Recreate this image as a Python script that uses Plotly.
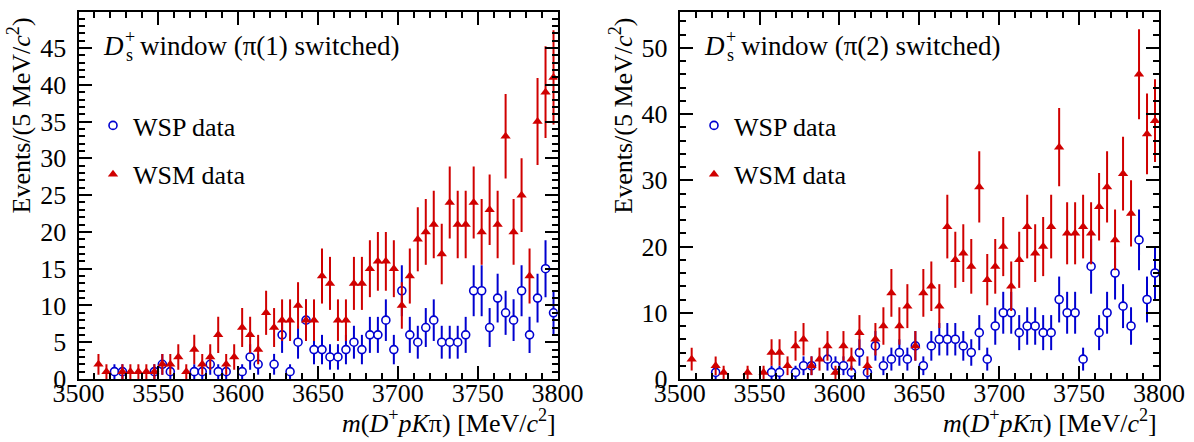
import math
import plotly.graph_objects as go

N = None
# 5 MeV bins from 3500 to 3800
bin_edges_lo = 3500
bin_width = 5
n_bins = 60
bin_centers = [bin_edges_lo + bin_width * (i + 0.5) for i in range(n_bins)]

# Left panel: pi(1) switched
left_wsp = [N, N, N, N, 1, 1, N, N, N, 1,
            2, 1, N, N, 1, 1, 2, 1, 1, N,
            1, 3, 2, N, 2, 6, 1, 5, 8, 4,
            4, 3, 3, 4, 5, 4, 6, 6, 8, 4,
            12, 6, 5, 7, 8, 5, 5, 5, 6, 12,
            12, 7, 11, 9, 8, 12, 6, 11, 15, 9]
left_wsm = [N, N, 2, 1, N, 1, 1, 1, 1, 1,
            2, 2, 3, 1, 4, 2, 3, 6, 2, 3,
            7, 6, 4, 9, 7, 8, 8, 10, 8, 8,
            14, 13, 8, 8, 13, 13, 15, 16, 16, 15,
            10, 14, 19, 20, 21, 17, 24, 21, 21, 24,
            20, 23, 21, 33, 20, 25, 14, 35, 39, 41]

# Right panel: pi(2) switched
right_wsp = [N, N, N, N, 1, N, N, N, N, N,
             N, 1, 1, N, 1, 2, 2, N, 3, 2,
             2, 1, 4, 1, 5, 2, 3, 4, 3, 5,
             2, 5, 6, 6, 6, 5, 4, 7, 3, 8,
             10, 10, 7, 8, 8, 7, 7, 12, 10, 10,
             3, 17, 7, 10, 16, 11, 8, 21, 12, 16]
right_wsm = [N, 3, N, N, 2, 1, N, N, 1, N,
             1, 4, 4, 2, 5, 6, 2, 3, 5, 1,
             5, 3, 7, 2, 6, 8, 13, 8, 11, 5,
             13, 14, 11, 23, 18, 19, 17, 29, 15, 17,
             20, 14, 18, 23, 19, 20, 23, 35, 22, 22,
             23, 22, 26, 29, 21, 31, 25, 46, 37, 39]

panel_labels = ["window (\u03c0(1) switched)", "window (\u03c0(2) switched)"]
series_names = ["WSP data", "WSM data"]

BLUE = "#0000d0"
RED = "#d00000"
FONT = "Liberation Serif"
W, H = 1194, 442


def errs(vals):
    return [math.sqrt(v) if v is not None else None for v in vals]


fig = go.Figure()

panels = [
    dict(wsp=left_wsp, wsm=left_wsm, xa="x", ya="y", legend="legend"),
    dict(wsp=right_wsp, wsm=right_wsm, xa="x2", ya="y2", legend="legend2"),
]

for p in panels:
    fig.add_trace(go.Scatter(
        x=bin_centers, y=p["wsp"], mode="markers", name=series_names[0],
        xaxis=p["xa"], yaxis=p["ya"], legend=p["legend"], legendgroup="wsp",
        marker=dict(symbol="circle", size=8, color="white",
                    line=dict(color=BLUE, width=1.6)),
        error_y=dict(type="data", array=errs(p["wsp"]), color=BLUE,
                     thickness=2, width=0),
        cliponaxis=True,
    ))
    fig.add_trace(go.Scatter(
        x=bin_centers, y=p["wsm"], mode="markers", name=series_names[1],
        xaxis=p["xa"], yaxis=p["ya"], legend=p["legend"], legendgroup="wsm",
        marker=dict(symbol="triangle-up", size=9, color=RED,
                    line=dict(color=RED, width=0)),
        error_y=dict(type="data", array=errs(p["wsm"]), color=RED,
                     thickness=2, width=0),
        cliponaxis=True,
    ))

ybot = 1 - 379 / H
ytop = 1 - 12 / H
left_x = (78.5, 557.5)
right_x = (679.7, 1159.0)

tickfont = dict(family=FONT, size=26, color="black")


def xaxis_cfg(dom, anchor):
    return dict(
        domain=[dom[0] / W, dom[1] / W], range=[3500, 3800], anchor=anchor,
        tick0=3500, dtick=50, ticks="inside", ticklen=13, tickwidth=1.5,
        tickcolor="black", showline=True, linecolor="black", linewidth=2,
        mirror="allticks", showgrid=False, zeroline=False, tickfont=tickfont,
        minor=dict(ticks="inside", dtick=10, ticklen=6, tickwidth=1.5,
                   tickcolor="black", showgrid=False),
        ticklabelstandoff=-10, automargin=False,
    )


def yaxis_cfg(anchor, ymax, dtick, mdtick):
    return dict(
        domain=[ybot, ytop], range=[0, ymax], anchor=anchor,
        tick0=0, dtick=dtick, ticks="inside", ticklen=13, tickwidth=1.5,
        tickcolor="black", showline=True, linecolor="black", linewidth=2,
        mirror="allticks", showgrid=False, zeroline=False, tickfont=tickfont,
        minor=dict(ticks="inside", dtick=mdtick, ticklen=6, tickwidth=1.5,
                   tickcolor="black", showgrid=False),
        ticklabelstandoff=5, automargin=False,
    )


annotations = []
for k, (ax0, ax1) in enumerate([left_x, right_x]):
    # panel label  D_s^+ window (...)
    yc = 1 - 46 / H
    annotations.append(dict(text="<i>D</i>", x=(ax0 + 22) / W, y=yc,
                            xref="paper", yref="paper", xanchor="left",
                            yanchor="middle", showarrow=False,
                            font=dict(family=FONT, size=27, color="black")))
    annotations.append(dict(text="+", x=(ax0 + 44) / W, y=1 - 37 / H,
                            xref="paper", yref="paper", xanchor="left",
                            yanchor="middle", showarrow=False,
                            font=dict(family=FONT, size=18, color="black")))
    annotations.append(dict(text="s", x=(ax0 + 45) / W, y=1 - 55 / H,
                            xref="paper", yref="paper", xanchor="left",
                            yanchor="middle", showarrow=False,
                            font=dict(family=FONT, size=18, color="black")))
    annotations.append(dict(text=panel_labels[k], x=(ax0 + 59) / W, y=yc,
                            xref="paper", yref="paper", xanchor="left",
                            yanchor="middle", showarrow=False,
                            font=dict(family=FONT, size=27, color="black")))
    # x title
    annotations.append(dict(
        text="<i>m</i>(<i>D</i><sup>+</sup><i>pK</i>\u03c0) [MeV/<i>c</i><sup>2</sup>]",
        x=ax1 / W, y=1 - 421 / H, xref="paper", yref="paper",
        xanchor="right", yanchor="middle", showarrow=False,
        font=dict(family=FONT, size=26, color="black")))
    # y title
    annotations.append(dict(
        text="Events/(5 MeV/<i>c</i><sup>2</sup>)",
        x=(ax0 - 58) / W, y=1 - 116 / H, xref="paper", yref="paper",
        xanchor="center", yanchor="middle", textangle=-90, showarrow=False,
        font=dict(family=FONT, size=26, color="black")))

legend_common = dict(
    xanchor="left", yanchor="top", bgcolor="rgba(0,0,0,0)",
    font=dict(family=FONT, size=26, color="black"), tracegroupgap=12,
    itemwidth=30,
)

fig.update_layout(
    width=W, height=H, margin=dict(l=0, r=0, t=0, b=0, autoexpand=False),
    font=dict(family=FONT, size=26, color="black"),
    paper_bgcolor="white", plot_bgcolor="white",
    xaxis=xaxis_cfg(left_x, "y"), yaxis=yaxis_cfg("x", 49.9, 5, 1),
    xaxis2=xaxis_cfg(right_x, "y2"),
    yaxis2=yaxis_cfg("x2", 55.4, 10, 2),
    annotations=annotations,
    legend=dict(legend_common, x=93 / W, y=1 - 102 / H),
    legend2=dict(legend_common, x=(93 + 601) / W, y=1 - 102 / H),
    showlegend=True,
)

fig.write_html(
    "out.html",
    config={"displayModeBar": False},
    post_script="document.body.style.margin='0px';document.body.style.padding='0px';",
)
